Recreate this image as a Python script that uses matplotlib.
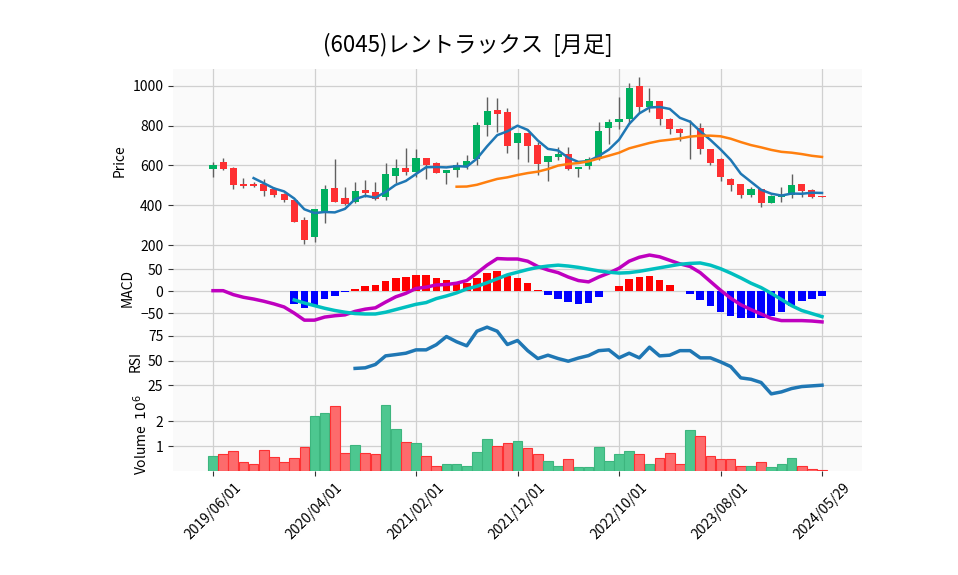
import matplotlib
matplotlib.use("Agg")
import matplotlib.pyplot as plt
import numpy as np
import pandas as pd

plt.rcParams['font.family'] = ['Noto Sans CJK JP', 'DejaVu Sans']

title = "(6045)レントラックス  [月足]"

opens = [581, 618, 588, 507, 505, 505, 484, 457, 427, 326,
         239, 367, 487, 437, 417, 477, 467, 440, 548, 588,
         568, 638, 611, 564, 578, 598, 631, 804, 879, 871,
         711, 765, 703, 618, 645, 658, 584, 598, 631, 786,
         821, 836, 1000, 896, 923, 836, 784, 796, 789, 682,
         635, 534, 507, 454, 480, 413, 444, 450, 507, 477, 447]
highs = [618, 636, 594, 536, 519, 530, 494, 462, 427, 340,
         383, 500, 631, 490, 517, 527, 517, 611, 631, 687,
         682, 638, 618, 578, 618, 653, 819, 943, 938, 888,
         765, 765, 720, 648, 692, 695, 591, 645, 821, 832,
         943, 1017, 1044, 990, 925, 840, 786, 829, 816, 682,
         640, 536, 507, 490, 484, 450, 491, 557, 507, 484, 447]
lows = [541, 578, 480, 485, 494, 447, 440, 418, 318, 206,
        217, 313, 414, 402, 413, 440, 427, 427, 511, 551,
        544, 530, 564, 507, 541, 584, 601, 749, 770, 665,
        631, 618, 551, 521, 628, 578, 541, 584, 628, 708,
        782, 810, 866, 869, 804, 759, 722, 631, 659, 601,
        521, 474, 437, 443, 390, 410, 418, 437, 440, 437, 440]
closes = [601, 584, 504, 497, 497, 474, 454, 427, 318, 226,
          380, 480, 417, 407, 470, 464, 434, 558, 588, 568,
          638, 604, 564, 578, 601, 624, 804, 874, 859, 698,
          765, 698, 608, 648, 658, 584, 591, 631, 774, 819,
          832, 988, 896, 923, 832, 782, 765, 799, 682, 615,
          544, 501, 450, 480, 413, 447, 454, 501, 474, 440, 440]

# volume in millions
volume_m = [0.59, 0.70, 0.82, 0.35, 0.27, 0.86, 0.58, 0.35, 0.54, 0.95,
            2.24, 2.36, 2.62, 0.74, 1.03, 0.74, 0.68, 2.65, 1.68, 1.19,
            1.15, 0.62, 0.22, 0.30, 0.27, 0.22, 0.78, 1.31, 0.99, 1.15,
            1.20, 0.91, 0.70, 0.42, 0.22, 0.50, 0.18, 0.18, 0.95, 0.39,
            0.70, 0.82, 0.70, 0.27, 0.54, 0.74, 0.30, 1.64, 1.43, 0.62,
            0.50, 0.50, 0.22, 0.22, 0.38, 0.18, 0.30, 0.54, 0.22, 0.09, 0.02]

macd = [1, 1, -8, -14, -18, -23, -29, -36, -50, -66,
        -66, -59, -56, -54, -46, -41, -38, -25, -13, -5,
        6, 9, 14, 15, 18, 24, 41, 59, 74, 73,
        73, 68, 56, 48, 42, 32, 24, 21, 32, 41,
        52, 68, 77, 82, 78, 70, 62, 56, 42, 22,
        2, -16, -31, -42, -52, -62, -67, -67, -67, -68, -70]
signal = [None] * 8 + [-20, -27,
          -33, -39, -44, -48, -51, -52, -52, -48, -42, -36,
          -30, -26, -17, -11, -4, 5, 11, 19, 28, 37,
          43, 49, 54, 57, 59, 57, 54, 50, 46, 43,
          41, 42, 45, 49, 53, 57, 61, 63, 64, 59,
          51, 41, 30, 18, 8, -5, -19, -33, -44, -51, -58]
hist = [None] * 8 + [-29, -38,
        -32, -18, -11, -3, 5, 11, 14, 23, 29, 32,
        36, 36, 30, 26, 21, 18, 30, 41, 45, 35,
        30, 18, 3, -9, -17, -24, -29, -27, -14, 0,
        11, 27, 32, 35, 26, 14, 0, -6, -20, -33,
        -47, -56, -62, -61, -61, -56, -47, -33, -23, -17, -11]
rsi = [None] * 14 + [42, 42.6, 46, 54.7, 56, 57.4,
       60.8, 60.8, 66, 74.3, 69, 64.9, 79.7, 83.8, 79.7, 66.2,
       70.3, 60, 52, 55.4, 52, 49.3, 52.5, 55, 60, 60.8,
       52.7, 57.4, 52.7, 63.5, 54.7, 55.4, 60, 60, 52.7, 52.7,
       48.6, 43.9, 32.4, 31, 27.7, 16.2, 18.2, 21.6, 23.6, 24.3, 25]

tick_pos = [0, 10, 20, 30, 40, 50, 60]
tick_labels = ['2019/06/01', '2020/04/01', '2021/02/01', '2021/12/01',
               '2022/10/01', '2023/08/01', '2024/05/29']

df = pd.DataFrame({'Open': opens, 'High': highs, 'Low': lows, 'Close': closes})
x = np.arange(len(df))
ma5 = df['Close'].rolling(5).mean()
ma25 = df['Close'].rolling(25).mean()
up = df['Close'] >= df['Open']

fig = plt.figure(figsize=(9.58, 5.75), dpi=100)
L, W = 0.1806, 0.7192
ax1 = fig.add_axes([L, 0.5617, W, 0.3183])
ax2 = fig.add_axes([L, 0.4348, W, 0.127], sharex=ax1)
ax3 = fig.add_axes([L, 0.3078, W, 0.127], sharex=ax1)
ax4 = fig.add_axes([L, 0.1809, W, 0.127], sharex=ax1)

for ax in [ax1, ax2, ax3, ax4]:
    ax.set_facecolor('#fafafa')
    ax.grid(True, color='#d0d0d0', lw=0.9)
    ax.set_axisbelow(True)
    for s in ax.spines.values():
        s.set_visible(False)
    ax.tick_params(axis='y', labelsize=10, length=3.5, color='#333333')
    ax.tick_params(axis='x', length=0, labelbottom=False)

# candles
ax1.vlines(x, df['Low'], df['High'], color='#606060', lw=1, zorder=2)
body_col = np.where(up, '#00b060', '#fe3032')
ax1.bar(x, df['Close'] - df['Open'], bottom=df['Open'], width=0.7,
        color=body_col, zorder=3)
ax1.plot(x, ma5, color='tab:blue', lw=1.8, zorder=4)
ax1.plot(x, ma25, color='tab:orange', lw=1.8, zorder=4)
ax1.set_ylim(165, 1085)
ax1.set_yticks([200, 400, 600, 800, 1000])
ax1.set_ylabel('Price', fontsize=10)

# MACD
h = np.array([np.nan if v is None else v for v in hist], dtype=float)
hcol = np.where(h >= 0, 'red', 'blue')
ax2.bar(x, np.nan_to_num(h), width=0.75, color=hcol, zorder=2)
ax2.plot(x, macd, color='m', lw=2.5, zorder=3)
ax2.plot(x, np.array([np.nan if v is None else v for v in signal], dtype=float),
         color='c', lw=2.5, zorder=3)
ax2.set_ylim(-77, 89)
ax2.set_yticks([-50, 0, 50])
ax2.set_ylabel('MACD', fontsize=10)

# RSI
ax3.plot(x, np.array([np.nan if v is None else v for v in rsi], dtype=float),
         color='tab:blue', lw=2.5)
ax3.set_ylim(12, 86)
ax3.set_yticks([25, 50, 75])
ax3.set_ylabel('RSI', fontsize=10)

# volume
vcol = np.where(up, '#4dc790', '#fd6b6c')
vedge = np.where(up, '#3db57e', '#fe3032')
ax4.bar(x, volume_m, width=0.95, color=vcol, edgecolor=vedge, lw=0.8, zorder=2)
ax4.set_ylim(0, 2.95)
ax4.set_yticks([1, 2])
ax4.set_ylabel('Volume  $10^{6}$', fontsize=10)

ax4.set_xlim(-3.94, 63.94)
ax4.set_xticks(tick_pos)
ax4.set_xticklabels(tick_labels, rotation=45, fontsize=10)
ax4.tick_params(axis='x', length=3.5, labelbottom=True, color='#333333')

fig.text(468 / 958, 1 - 45 / 575, title, ha='center', va='center', fontsize=16)

fig.savefig('out.png', dpi=100)
